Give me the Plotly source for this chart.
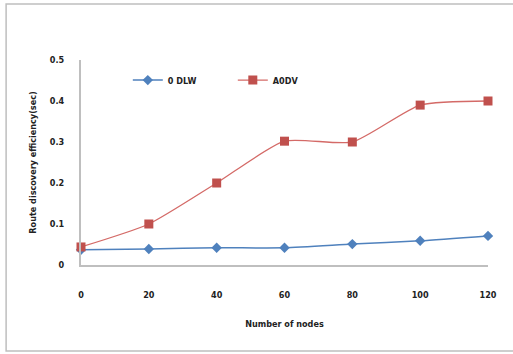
import plotly.graph_objects as go

nodes = [0, 20, 40, 60, 80, 100, 120]
odlw = [0.037, 0.039, 0.042, 0.042, 0.051, 0.059, 0.071]
aodv = [0.044, 0.100, 0.200, 0.302, 0.300, 0.390, 0.400]
x_ticks = [0, 20, 40, 60, 80, 100, 120]
y_ticks = [0, 0.1, 0.2, 0.3, 0.4, 0.5]
y_tick_text = ["0", "0.1", "0.2", "0.3", "0.4", "0.5"]

FONT = "DejaVu Sans Condensed, Liberation Sans Narrow, Arial Narrow, sans-serif"

fig = go.Figure()
fig.add_trace(go.Scatter(
    x=nodes, y=odlw, name="0 DLW", mode="lines+markers",
    line=dict(color="#4F81BD", width=1.5, shape="spline", smoothing=0.6),
    marker=dict(symbol="diamond", size=8, color="#4F81BD"),
))
fig.add_trace(go.Scatter(
    x=nodes, y=aodv, name="A0DV", mode="lines+markers",
    line=dict(color="#D46A67", width=1.3, shape="spline", smoothing=0.6),
    marker=dict(symbol="square", size=9, color="#C0504D"),
))

fig.update_layout(
    width=513, height=354,
    margin=dict(l=81, r=25, t=60, b=89),
    paper_bgcolor="white", plot_bgcolor="white",
    font=dict(family=FONT, size=9, color="#222222", weight="bold"),
    showlegend=True,
    legend=dict(orientation="h", x=0.115, y=0.902, xanchor="left", yanchor="middle",
                bgcolor="rgba(0,0,0,0)", font=dict(size=9, family=FONT, weight="bold"),
                entrywidth=60, itemwidth=30),
    xaxis=dict(
        range=[0, 120], tickvals=x_ticks, ticktext=[str(v) for v in x_ticks],
        showgrid=False, zeroline=False, showline=True, linecolor="#BFBFBF", linewidth=2,
        ticks="", ticklabelstandoff=20,
        title=dict(text="Number of nodes", standoff=22, font=dict(size=9, family=FONT, weight="bold")),
    ),
    yaxis=dict(
        range=[0, 0.5], tickvals=y_ticks, ticktext=y_tick_text,
        showgrid=False, zeroline=False, showline=True, linecolor="#BFBFBF", linewidth=2,
        ticks="", ticklabelstandoff=13,
        title=dict(text="Route discovery efficiency(sec)", standoff=12, font=dict(size=9, family=FONT, weight="bold")),
    ),
    shapes=[dict(type="rect", xref="paper", yref="paper",
                 x0=-0.184, x1=1.08, y0=-0.42, y1=1.273,
                 line=dict(color="#BEBEBE", width=1.5), layer="below")],
)
fig.update_traces(cliponaxis=False)

fig.write_html("out.html", config={"displayModeBar": False},
               post_script="document.body.style.margin='0';")
